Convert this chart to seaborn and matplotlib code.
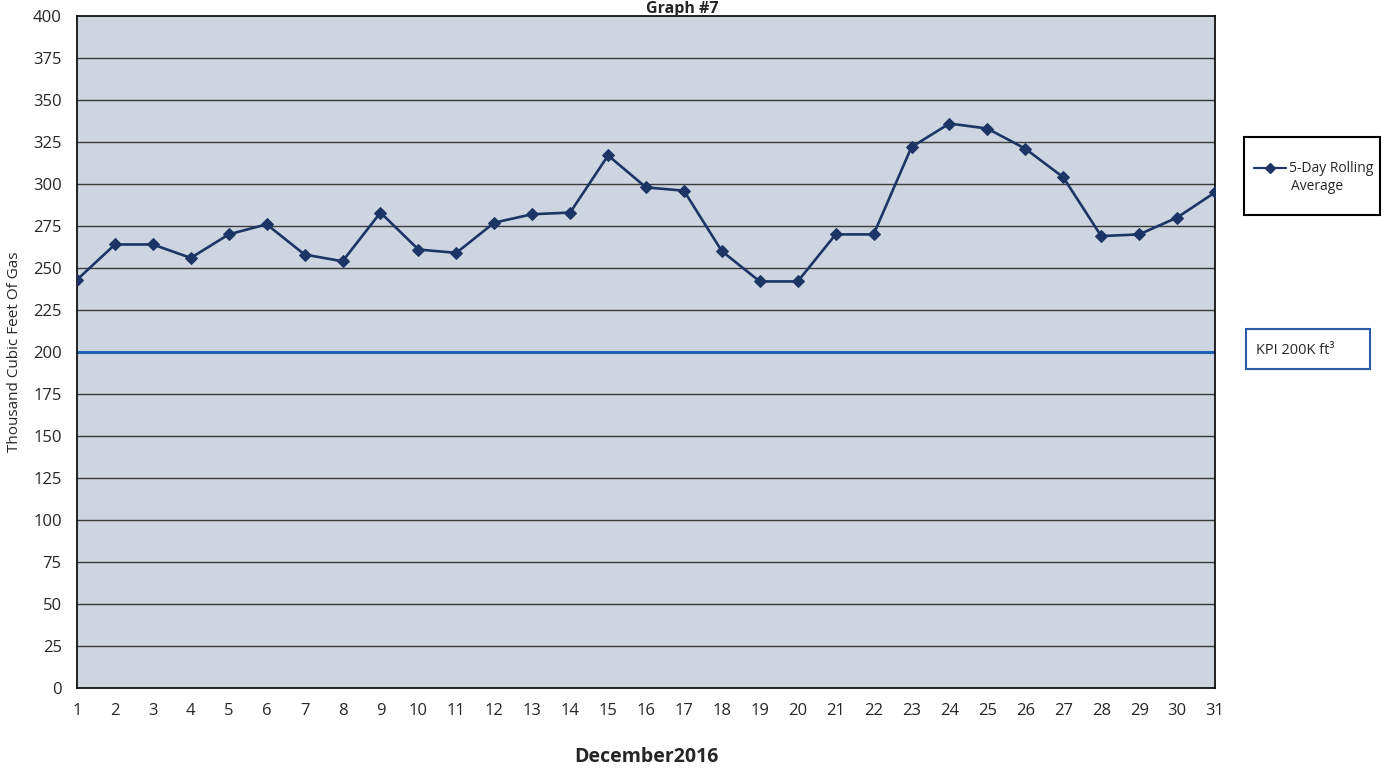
import matplotlib
matplotlib.use("Agg")
import matplotlib.pyplot as plt
import seaborn as sns
import pandas as pd
from matplotlib.patches import Rectangle
from matplotlib.lines import Line2D

days = list(range(1, 32))
rolling_avg = [243, 264, 264, 256, 270, 276, 258, 254, 283, 261, 259, 277, 282, 283, 317,
               298, 296, 260, 242, 242, 270, 270, 322, 336, 333, 321, 304, 269, 270, 280, 295]
kpi_value = 200
y_ticks = list(range(0, 401, 25))
series_label_1 = "5-Day Rolling"
series_label_2 = "Average"
kpi_label = "KPI 200K ft³"
title = "Graph #7"
x_label = "December2016"
y_label = "Thousand Cubic Feet Of Gas"

sns.set_style("white")
plt.rcParams['font.family'] = ['Open Sans', 'DejaVu Sans']

df = pd.DataFrame({"day": days, "value": rolling_avg})

fig = plt.figure(figsize=(13.93, 7.69), dpi=100)
ax = fig.add_axes([77/1393, 1-688/769, (1215-77)/1393, (688-16)/769])
ax.set_facecolor("#cdd5e0")

for y in y_ticks[1:-1]:
    ax.axhline(y, color="#3a3a3a", lw=1.0, zorder=1)

ax.axhline(kpi_value, color="#1f63b8", lw=2.2, zorder=2)

sns.lineplot(data=df, x="day", y="value", ax=ax, color="#1c3566", lw=1.9,
             marker="D", markersize=6.5, markeredgecolor="#1c3566", zorder=3, legend=False)

ax.set_xlim(1, 31)
ax.set_ylim(0, 400)
ax.set_xticks(days)
ax.set_yticks(y_ticks)
ax.tick_params(axis="both", direction="out", length=5, width=1.2, color="black",
               labelsize=12, pad=6)
for s in ax.spines.values():
    s.set_color("black")
    s.set_linewidth(1.2)

ax.set_xlabel(x_label, fontsize=14, fontweight="bold", labelpad=20)
ax.set_ylabel(y_label, fontsize=11, labelpad=8)
fig.text(0.49, 0.999, title, ha="center", va="top", fontsize=11.5, fontweight="bold")

# legend box
fig.patches.append(Rectangle((1244/1393, 1-215/769), (1380-1244)/1393, (215-137)/769,
                             transform=fig.transFigure, fill=False, edgecolor="black", lw=1.5))
fig.lines.append(Line2D([1254/1393, 1286/1393], [1-168/769]*2, transform=fig.transFigure,
                        color="#1c3566", lw=1.6))
fig.lines.append(Line2D([1270/1393], [1-168/769], transform=fig.transFigure,
                        color="#1c3566", marker="D", markersize=5, lw=0))
fig.text(1289/1393, 1-168/769, series_label_1, ha="left", va="center", fontsize=10)
fig.text(1317/1393, 1-187/769, series_label_2, ha="center", va="center", fontsize=10)

# KPI box
fig.patches.append(Rectangle((1246/1393, 1-369/769), (1370-1246)/1393, (369-329)/769,
                             transform=fig.transFigure, fill=False, edgecolor="#2d5aa8", lw=1.5))
fig.text(1256/1393, 1-350/769, kpi_label, ha="left", va="center", fontsize=10.5)

fig.savefig("out.png", dpi=100)
